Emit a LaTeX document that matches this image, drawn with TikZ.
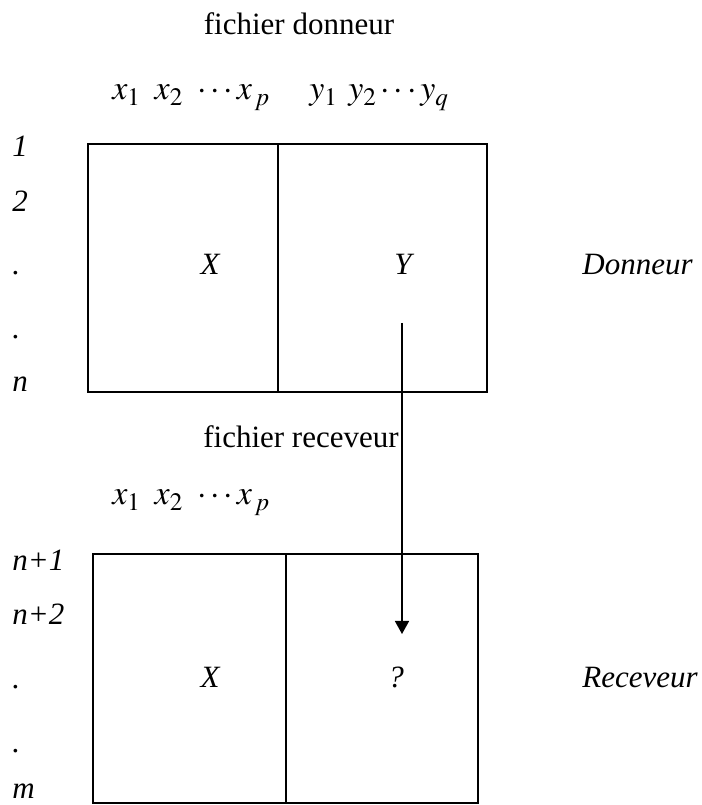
\documentclass[tikz,border=0pt]{standalone}
\usepackage{mathptmx}
\usepackage{fontspec}
\setmainfont{Liberation Serif}
\usetikzlibrary{arrows.meta, positioning}

\begin{document}
\begin{tikzpicture}[
  x=0.5pt, y=0.5pt,
  font=\fontsize{15.5}{18}\selectfont,
  cell/.style={draw, line width=0.9pt, inner sep=0pt, outer sep=0pt, minimum height=124pt},
  arr/.style={-{Triangle[width=7pt, length=6.5pt]}, line width=0.8pt},
  txt/.style={inner sep=0pt, anchor=base},
  row/.style={inner sep=0pt, anchor=base west, font=\fontsize{15.5}{18}\selectfont\itshape},
  var/.style={inner sep=0pt, anchor=base west, font=\fontsize{17}{20}\selectfont},
  lbl/.style={inner sep=0pt, anchor=base, font=\fontsize{15.5}{18}\selectfont\itshape}
]
\useasboundingbox (0,0) rectangle (702,805);

% donneur
\node[txt] (tdon) at (299,770) {fichier donneur};
\node[var] (hdx) at (112,705) {$x_1\hspace{0.4em}x_2\hspace{0.3em}\cdots x_{\,p}$};
\node[var] (hdy) at (309,705) {$y_1\hspace{0.3em}y_2\cdots y_q$};

\node[cell, minimum width=95pt] (donX) at (183,537) {};
\node[cell, minimum width=104.5pt, right=0pt of donX] (donY) {};
\node[lbl] (lX) at (210,530) {X};
\node[lbl] (lY) at (403,530) {Y};
\node[row] (don) at (582,530) {Donneur};

\node[row] (r1) at (12,648) {1};
\node[row] (r2) at (12,593) {2};
\node[row] (r3) at (12,530) {.};
\node[row] (r4) at (12,466) {.};
\node[row] (r5) at (12,413) {n};

% receveur
\node[txt] (trec) at (301,357) {fichier receveur};
\node[var] (hrx) at (112,300) {$x_1\hspace{0.4em}x_2\hspace{0.3em}\cdots x_{\,p}$};

\node[cell, minimum width=96.5pt, minimum height=124.5pt] (recX) at (189.5,126.5) {};
\node[cell, minimum width=96pt, minimum height=124.5pt, right=0pt of recX] (recQ) {};
\node[lbl] (lX2) at (210,118) {X};
\node[lbl] (lQ) at (396,118) {?};
\node[row] (rec) at (582,118) {Receveur};

\node[row] (s1) at (12,234) {n+1};
\node[row] (s2) at (12,180) {n+2};
\node[row] (s3) at (12,116) {.};
\node[row] (s4) at (12,53) {.};
\node[row] (s5) at (12,6) {m};

\coordinate (src) at (402,482);
\coordinate (dst) at (402,171);
\draw[arr] (src) -- (dst);
\end{tikzpicture}
\end{document}
